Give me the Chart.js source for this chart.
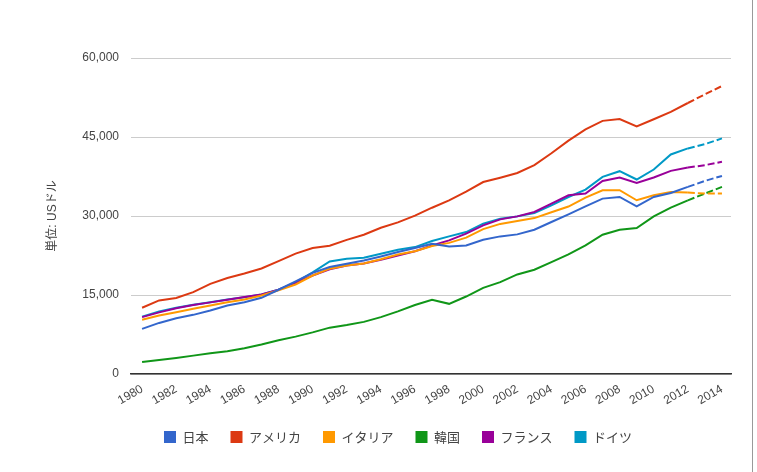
<!DOCTYPE html>
<html><head><meta charset="utf-8">
<script src="https://cdn.jsdelivr.net/npm/chart.js@4.4.1/dist/chart.umd.min.js"></script>
<style>
html,body{margin:0;padding:0;background:#fff}
#wrap{position:relative;width:757px;height:472px;overflow:hidden}
#frame{position:absolute;left:752px;top:0;width:1px;height:472px;background:#999}
</style>
</head><body>
<div id="wrap"><canvas id="c" width="757" height="472"></canvas><div id="frame"></div></div>
<script>
const years = [1980,1981,1982,1983,1984,1985,1986,1987,1988,1989,1990,1991,1992,1993,1994,1995,1996,1997,1998,1999,2000,2001,2002,2003,2004,2005,2006,2007,2008,2009,2010,2011,2012,2013,2014];
const tickYears = [1980,1982,1984,1986,1988,1990,1992,1994,1996,1998,2000,2002,2004,2006,2008,2010,2012,2014];
const yTicks = [0,15000,30000,45000,60000];
const seriesNames = ['日本','アメリカ','イタリア','韓国','フランス','ドイツ'];
const japan   = [8560,9700,10590,11230,12050,13000,13640,14460,16000,17600,19200,20300,20930,21560,22320,23150,23910,24730,24230,24420,25500,26130,26510,27400,28860,30320,31840,33300,33610,31840,33620,34380,35520,36660,37610];
const usa     = [12575,13976,14434,15544,17121,18237,19071,20039,21417,22857,23914,24366,25467,26443,27777,28782,30068,31573,32949,34620,36450,37274,38166,39677,41922,44308,46437,48061,48401,47002,48374,49782,51457,53101,54678];
const italy   = [10300,11100,11730,12370,13000,13640,14140,14900,15900,17000,18700,20000,20600,21000,21800,22700,23300,24300,24900,25900,27500,28500,29050,29600,30700,31800,33500,34890,34890,32990,33940,34570,34440,34250,34250];
const korea   = [2300,2660,3040,3490,3930,4310,4900,5600,6400,7100,7900,8800,9300,9900,10800,11900,13100,14080,13320,14710,16360,17440,18900,19790,21250,22700,24420,26450,27400,27710,29930,31580,32980,34260,35520];
const france  = [10800,11700,12500,13100,13600,14100,14600,15100,16000,17300,18700,19900,20600,21000,21700,22500,23300,24400,25370,26640,28220,29360,29930,30760,32340,33930,34260,36660,37300,36280,37300,38570,39210,39650,40290];
const germany = [10900,11860,12560,13130,13640,14140,14590,15100,16000,17400,19300,21370,21880,22070,22830,23590,24100,25240,26130,26950,28540,29490,29930,30570,32030,33610,35020,37430,38510,36930,38830,41690,42830,43650,44730];
const estimateFrom = 32; // index from which segments are dashed (estimates)

const colors = ['#3366cc','#dc3912','#ff9900','#109618','#990099','#0099c6'];
const allSeries = [japan, usa, italy, korea, france, germany];

const datasets = allSeries.map((vals, k) => ({
  label: seriesNames[k],
  data: vals.map((v, i) => ({x: years[i], y: v})),
  borderColor: colors[k],
  backgroundColor: colors[k],
  borderWidth: 2,
  pointRadius: 0,
  pointHoverRadius: 0,
  tension: 0,
  fill: false,
  segment: { borderDash: ctx => ctx.p0DataIndex >= estimateFrom ? [7, 3] : undefined }
}));

const LEG_PAD = 22, LEG_FONT = 13;
const legendShift = {
  id: 'legendShift',
  afterLayout(chart) {
    const lg = chart.legend;
    if (!lg) return;
    const h = lg.height;
    lg.top = 437 - LEG_PAD - LEG_FONT / 2;
    lg.bottom = lg.top + h;
    lg.left += 10;
    lg.right += 10;
  }
};

const fontFam = "'Liberation Sans', Arial, 'Noto Sans CJK JP', sans-serif";

new Chart(document.getElementById('c'), {
  type: 'line',
  data: { datasets },
  plugins: [legendShift],
  options: {
    responsive: false,
    animation: false,
    locale: 'en-US',
    layout: { padding: { left: 45, right: 26, top: 58, bottom: 0 } },
    plugins: {
      tooltip: { enabled: false },
      legend: {
        position: 'bottom',
        labels: {
          boxWidth: 12, boxHeight: 12, padding: LEG_PAD, color: '#444',
          font: { family: "'Noto Sans CJK JP', 'Liberation Sans', sans-serif", size: LEG_FONT },
          generateLabels(chart) {
            return chart.data.datasets.map((d, i) => ({
              text: d.label, fillStyle: d.backgroundColor, strokeStyle: d.backgroundColor,
              lineWidth: 0, hidden: false, datasetIndex: i, fontColor: '#444'
            }));
          }
        }
      }
    },
    scales: {
      x: {
        type: 'linear',
        min: 1979.35, max: 2014.53,
        afterBuildTicks: s => { s.ticks = tickYears.map(v => ({ value: v })); },
        afterFit: s => { const L = s.chart.legend ? s.chart.legend.height : 75; s.height = 472 - 374 - L; },
        grid: { display: false, drawTicks: false },
        border: { display: true, color: '#333', width: 1.5 },
        ticks: {
          autoSkip: false, minRotation: 30, maxRotation: 30, padding: 8, color: '#444',
          font: { family: fontFam, size: 12 },
          callback: v => String(v)
        }
      },
      y: {
        min: 0, max: 60000,
        afterBuildTicks: s => { s.ticks = yTicks.map(v => ({ value: v })); },
        afterFit: s => { s.width = 86; },
        grid: { color: '#cccccc', lineWidth: 1, drawTicks: false },
        border: { display: false },
        ticks: {
          padding: 12, color: '#444', font: { family: fontFam, size: 12 },
          callback: v => v.toLocaleString('en-US')
        },
        title: {
          display: true, text: '単位: USドル', color: '#444',
          font: { family: fontFam, size: 12 }, padding: { top: 0, bottom: 0 }
        }
      }
    }
  }
});
</script>
</body></html>
